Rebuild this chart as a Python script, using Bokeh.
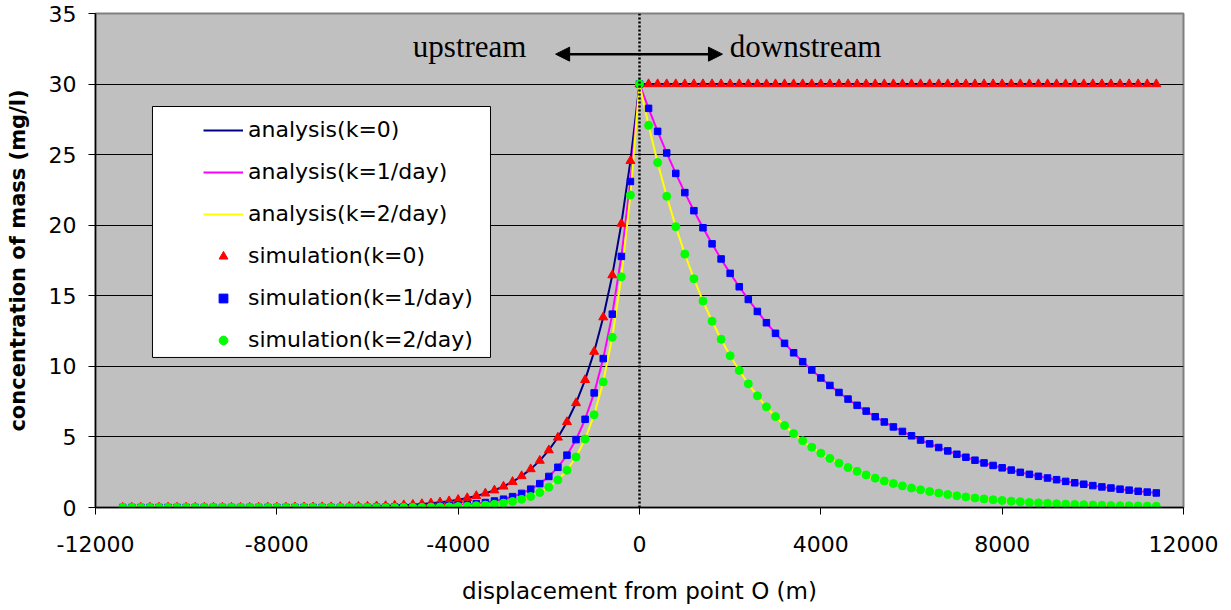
from bokeh.plotting import figure
from bokeh.models import (Range1d, SingleIntervalTicker, Span, Label, Arrow,
                          NormalHead, Legend, LegendItem, BoxAnnotation,
                          NumeralTickFormatter)
from bokeh.embed import file_html
from bokeh.resources import INLINE

# ---------------- data ----------------
# displacement from point O (m): -11400 ... 11400, every 200 m
displacement_m = list(range(-11400, 11401, 200))

peak_conc = 30.0

# k = 0
k0_upstream = [
    0.0, 0.0, 0.0, 0.0, 0.0, 0.0, 0.0, 0.0, 0.0, 0.0, 0.0, 0.0, 0.0, 0.0, 0.0,
    0.01, 0.01, 0.01, 0.01, 0.02, 0.02, 0.02, 0.03, 0.03, 0.04, 0.05, 0.06,
    0.07, 0.09, 0.11, 0.14, 0.17, 0.20, 0.25, 0.30, 0.37, 0.45, 0.55, 0.67,
    0.82, 1.00, 1.22, 1.49, 1.82, 2.23, 2.72, 3.32, 4.06, 4.96, 6.06, 7.40,
    9.04, 11.04, 13.48, 16.46, 20.11, 24.56]
k0_downstream = [
    30.0, 30.0, 30.0, 30.0, 30.0, 30.0, 30.0, 30.0, 30.0, 30.0,
    30.0, 30.0, 30.0, 30.0, 30.0, 30.0, 30.0, 30.0, 30.0, 30.0,
    30.0, 30.0, 30.0, 30.0, 30.0, 30.0, 30.0, 30.0, 30.0, 30.0,
    30.0, 30.0, 30.0, 30.0, 30.0, 30.0, 30.0, 30.0, 30.0, 30.0,
    30.0, 30.0, 30.0, 30.0, 30.0, 30.0, 30.0, 30.0, 30.0, 30.0,
    30.0, 30.0, 30.0, 30.0, 30.0, 30.0, 30.0]

# k = 1/day
k1_upstream = [
    0.0, 0.0, 0.0, 0.0, 0.0, 0.0, 0.0, 0.0, 0.0, 0.0, 0.0, 0.0, 0.0,
    0.0, 0.0, 0.0, 0.0, 0.0, 0.0, 0.0, 0.0, 0.0, 0.0, 0.0, 0.0, 0.0,
    0.01, 0.01, 0.02, 0.02, 0.03, 0.03, 0.04, 0.06, 0.07, 0.10, 0.12, 0.16,
    0.21, 0.27, 0.35, 0.46, 0.59, 0.77, 1.00, 1.30, 1.69, 2.20, 2.85, 3.71,
    4.81, 6.25, 8.12, 10.55, 13.70, 17.79, 23.10]
k1_downstream = [
    28.28, 26.65, 25.12, 23.67, 22.31, 21.03, 19.82, 18.68, 17.61, 16.59,
    15.64, 14.74, 13.89, 13.09, 12.34, 11.63, 10.96, 10.33, 9.74, 9.18,
    8.65, 8.15, 7.68, 7.24, 6.83, 6.43, 6.06, 5.71, 5.39, 5.08,
    4.78, 4.51, 4.25, 4.01, 3.77, 3.56, 3.35, 3.16, 2.98, 2.81,
    2.65, 2.49, 2.35, 2.21, 2.09, 1.97, 1.85, 1.75, 1.65, 1.55,
    1.46, 1.38, 1.30, 1.23, 1.15, 1.09, 1.03]

# k = 2/day
k2_upstream = [
    0.0, 0.0, 0.0, 0.0, 0.0, 0.0, 0.0, 0.0, 0.0, 0.0,
    0.0, 0.0, 0.0, 0.0, 0.0, 0.0, 0.0, 0.0, 0.0, 0.0,
    0.0, 0.0, 0.0, 0.0, 0.0, 0.0, 0.0, 0.0, 0.0, 0.0,
    0.01, 0.01, 0.02, 0.02, 0.03, 0.04, 0.05, 0.07, 0.09, 0.13, 0.17, 0.23,
    0.31, 0.43, 0.58, 0.78, 1.06, 1.44, 1.95, 2.64, 3.58, 4.85, 6.57, 8.90,
    12.06, 16.34, 22.14]
k2_downstream = [
    27.08, 24.44, 22.05, 19.90, 17.96, 16.21, 14.63, 13.20, 11.92, 10.75,
    9.71, 8.76, 7.91, 7.13, 6.44, 5.81, 5.24, 4.73, 4.27, 3.85,
    3.48, 3.14, 2.83, 2.56, 2.31, 2.08, 1.88, 1.70, 1.53, 1.38,
    1.25, 1.13, 1.02, 0.92, 0.83, 0.75, 0.67, 0.61, 0.55, 0.50,
    0.45, 0.40, 0.36, 0.33, 0.30, 0.27, 0.24, 0.22, 0.20, 0.18,
    0.16, 0.14, 0.13, 0.12, 0.11, 0.10, 0.09]

sim_k0 = k0_upstream + [peak_conc] + k0_downstream
sim_k1 = k1_upstream + [peak_conc] + k1_downstream
sim_k2 = k2_upstream + [peak_conc] + k2_downstream
# analytical curves coincide with the simulated points
analysis_k0 = list(sim_k0)
analysis_k1 = list(sim_k1)
analysis_k2 = list(sim_k2)
for s in (sim_k0, sim_k1, sim_k2):
    assert len(s) == len(displacement_m), len(s)

line_labels = ["analysis(k=0)", "analysis(k=1/day)", "analysis(k=2/day)"]
sim_labels = ["simulation(k=0)", "simulation(k=1/day)", "simulation(k=2/day)"]

# ---------------- figure ----------------
SANS = "DejaVu Sans"
p = figure(width=1231, height=610, output_backend="svg", toolbar_location=None,
           x_range=Range1d(-12000, 12000), y_range=Range1d(0, 35),
           min_border_left=95, min_border_right=48, min_border_top=13,
           min_border_bottom=103,
           background_fill_color="#C0C0C0", border_fill_color="white",
           outline_line_color="#808080", outline_line_width=2)

r_a0 = p.line(displacement_m, analysis_k0, line_color="#000080", line_width=2)
r_a1 = p.line(displacement_m, analysis_k1, line_color="#FF00FF", line_width=2)
r_a2 = p.line(displacement_m, analysis_k2, line_color="#FFFF00", line_width=2)
r_s0 = p.scatter(displacement_m, sim_k0, marker="triangle", size=9,
                 fill_color="#FF0000", line_color="#FF0000")
r_s1 = p.scatter(displacement_m, sim_k1, marker="square", size=6.5,
                 fill_color="#0000FF", line_color="#0000FF")
r_s2 = p.scatter(displacement_m, sim_k2, marker="circle", size=8,
                 fill_color="#00FF00", line_color="#00FF00")

# dotted line at point O
p.add_layout(Span(location=0, dimension="height", line_color="black",
                  line_width=2.5, line_dash="2 2"))

# upstream / downstream annotation
arrow_y = 32.12
p.add_layout(Arrow(start=NormalHead(size=14, fill_color="black", line_color="black"),
                   end=NormalHead(size=14, fill_color="black", line_color="black"),
                   x_start=-1850, y_start=arrow_y, x_end=1830, y_end=arrow_y,
                   line_color="black", line_width=2.5))
p.add_layout(Label(x=-5000, y=32.64, text="upstream", text_font="Liberation Serif",
                   text_font_size="31px", text_color="black",
                   text_baseline="alphabetic"))
p.add_layout(Label(x=1992, y=32.64, text="downstream", text_font="Liberation Serif",
                   text_font_size="31px", text_color="black",
                   text_baseline="alphabetic"))

# legend box + legend
p.add_layout(BoxAnnotation(left=-10743, right=-3287, bottom=10.63, top=28.41,
                           fill_color="white", fill_alpha=1.0,
                           line_color="black", line_width=1, line_alpha=1.0))
items = [LegendItem(label=line_labels[0], renderers=[r_a0]),
         LegendItem(label=line_labels[1], renderers=[r_a1]),
         LegendItem(label=line_labels[2], renderers=[r_a2]),
         LegendItem(label=sim_labels[0], renderers=[r_s0]),
         LegendItem(label=sim_labels[1], renderers=[r_s1]),
         LegendItem(label=sim_labels[2], renderers=[r_s2])]
legend = Legend(items=items, location=(108, 155), padding=0, margin=0,
                spacing=17, glyph_width=40, glyph_height=22, label_height=22,
                label_standoff=5, label_text_font=SANS,
                label_text_font_size="22px", label_text_color="black",
                background_fill_alpha=0.0, border_line_alpha=0.0)
p.add_layout(legend, "center")

# axes
p.xgrid.grid_line_color = None
p.ygrid.grid_line_color = "black"
p.ygrid.grid_line_width = 1

p.xaxis.ticker = SingleIntervalTicker(interval=4000, num_minor_ticks=0)
p.yaxis.ticker = SingleIntervalTicker(interval=5, num_minor_ticks=0)
p.xaxis.formatter = NumeralTickFormatter(format="0")
p.yaxis.formatter = NumeralTickFormatter(format="0")
for ax in (p.xaxis, p.yaxis):
    ax.axis_line_color = "black"
    ax.axis_line_width = 1.5
    ax.major_tick_line_color = "black"
    ax.major_tick_out = 7
    ax.major_tick_in = 0
    ax.minor_tick_line_color = None
    ax.major_label_text_font = SANS
    ax.major_label_text_font_size = "22px"
    ax.major_label_text_color = "black"
    ax.axis_label_text_color = "black"
    ax.axis_label_text_font = SANS

p.xaxis.axis_label = "displacement from point O (m)"
p.xaxis.axis_label_text_font_size = "23px"
p.xaxis.axis_label_text_font_style = "normal"
p.xaxis.major_label_standoff = 21
p.xaxis.axis_label_standoff = 23

p.yaxis.axis_label = "concentration of mass (mg/l)"
p.yaxis.axis_label_text_font_size = "21px"
p.yaxis.axis_label_text_font_style = "bold"
p.yaxis.major_label_standoff = 12
p.yaxis.axis_label_standoff = 16

open("out.html", "w").write(file_html(p, INLINE))
